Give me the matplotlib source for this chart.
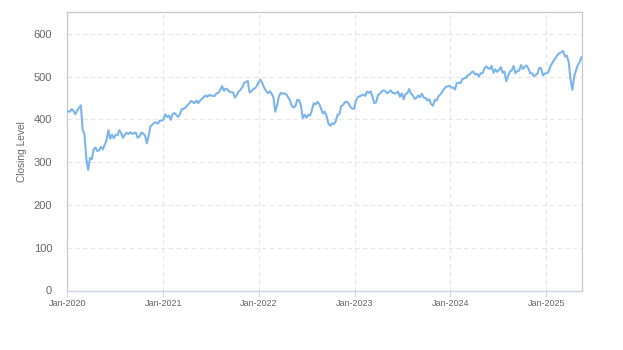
import pandas as pd
import matplotlib
matplotlib.use('Agg')
import matplotlib.pyplot as plt
import matplotlib.dates as mdates

# 周收盘价（每周五）
CLOSE_2020 = [
    419, 418, 424, 420, 412,
    421, 427, 433, 377,
    365, 308, 282, 310,
    307, 330, 334, 326,
    328, 336, 330, 341, 351,
    375, 355, 364, 356,
    364, 363, 375, 368, 357,
    364, 369, 366, 370,
    366, 368, 369, 357,
    360, 369, 367, 362, 344,
    362, 384, 388, 392,
    393, 390, 397, 397,
]
CLOSE_2021 = [
    399, 412, 406, 409, 399,
    412, 415, 411, 406,
    412, 424, 425, 427,
    432, 437, 443, 441, 438,
    444, 438, 444, 448,
    452, 456, 453, 457,
    456, 455, 455, 461, 462,
    469, 478, 467, 472,
    470, 465, 464, 463,
    451, 457, 465, 469, 475,
    485, 488, 490, 463,
    466, 471, 473, 479, 487,
]
CLOSE_2022 = [
    493, 484, 474, 467,
    461, 466, 460, 452,
    418, 433, 454, 462,
    460, 461, 459, 452, 445,
    432, 428, 431, 446,
    445, 433, 403, 411,
    404, 411, 409, 422, 438,
    435, 441, 436, 425,
    414, 418, 408, 390, 385,
    391, 389, 396, 411,
    412, 431, 434, 440,
    442, 437, 429, 425, 425,
]
CLOSE_2023 = [
    444, 452, 454, 456,
    458, 455, 465, 462,
    466, 453, 438, 440, 457,
    460, 465, 468, 466,
    461, 464, 468, 462,
    461, 461, 465, 453, 461,
    447, 459, 461, 471,
    460, 457, 448, 450,
    456, 452, 460, 451, 450,
    444, 447, 436, 432,
    446, 444, 454, 458,
    464, 471, 476, 477, 479,
]
CLOSE_2024 = [
    474, 475, 470, 485,
    486, 485, 494, 496,
    497, 503, 505, 510, 512,
    505, 507, 500, 508,
    508, 519, 524, 520, 518,
    525, 509, 517, 511,
    516, 522, 509, 512,
    489, 502, 512, 515, 525,
    508, 513, 514, 527,
    518, 523, 526, 519,
    508, 508, 501, 504, 507,
    521, 519, 503, 507,
]
CLOSE_2025 = [
    508, 511, 524, 531, 539,
    544, 552, 555, 557,
    560, 547, 549, 535,
    494, 469, 500, 515,
    527, 534, 546,
]

START_DATE = '2020-01-03'
Y_TICKS = [0, 100, 200, 300, 400, 500, 600]


def build_series():
    """
    拼接各年周数据，生成日期索引
    """
    closes = CLOSE_2020 + CLOSE_2021 + CLOSE_2022 + CLOSE_2023 + CLOSE_2024 + CLOSE_2025
    dates = pd.date_range(START_DATE, periods=len(closes), freq='W-FRI')
    return pd.Series(closes, index=dates)


def plot_close(data):
    plt.rcParams['font.family'] = ['Liberation Sans', 'DejaVu Sans']

    fig = plt.figure(figsize=(6.23, 3.5), dpi=100)
    ax = fig.add_axes([0.1083, 0.17, 0.8251, 0.7943])

    # 收盘价曲线
    ax.plot(data.index, data.values, color='#7cb5ec', linewidth=1.5,
            solid_joinstyle='round', zorder=3)

    ax.set_xlim(pd.Timestamp('2020-01-01'), data.index[-1])
    ax.set_ylim(0, 650)
    ax.set_yticks(Y_TICKS)

    ax.xaxis.set_major_locator(mdates.YearLocator())
    ax.xaxis.set_major_formatter(mdates.DateFormatter('%b-%Y'))

    # 虚线网格
    ax.grid(True, color='#e6e6e6', linewidth=0.8, linestyle=(0, (4, 3)), zorder=0)

    for side in ['top', 'right', 'left']:
        ax.spines[side].set_color('#c8c8c8')
        ax.spines[side].set_linewidth(0.9)
    ax.spines['bottom'].set_color('#ccd6eb')
    ax.spines['bottom'].set_linewidth(1.0)

    ax.tick_params(axis='y', length=0, pad=11, labelsize=8, labelcolor='#666666')
    ax.tick_params(axis='x', length=4, width=0.8, color='#ccd6eb', pad=2,
                   labelsize=6.5, labelcolor='#666666')

    ax.set_ylabel('Closing Level', fontsize=7.3, color='#666666', labelpad=5)

    fig.savefig('out.png', dpi=100)


if __name__ == '__main__':
    plot_close(build_series())
